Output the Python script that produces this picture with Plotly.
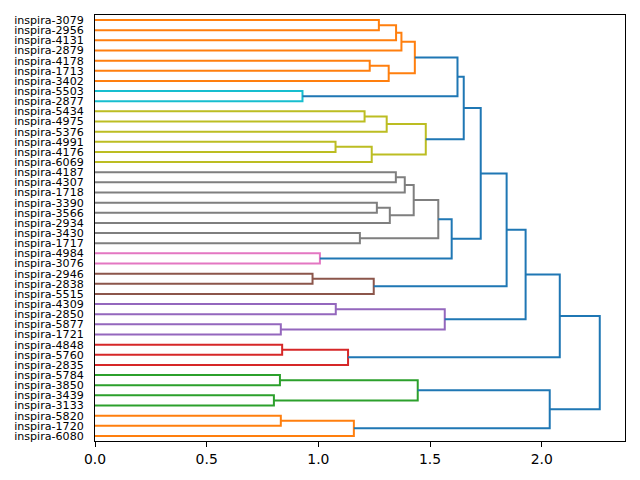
import plotly.graph_objects as go

# leaf labels, top to bottom as drawn
leaf_labels = [
    "inspira-3079", "inspira-2956", "inspira-4131", "inspira-2879", "inspira-4178",
    "inspira-1713", "inspira-3402", "inspira-5503", "inspira-2877", "inspira-5434",
    "inspira-4975", "inspira-5376", "inspira-4991", "inspira-4176", "inspira-6069",
    "inspira-4187", "inspira-4307", "inspira-1718", "inspira-3390", "inspira-3566",
    "inspira-2934", "inspira-3430", "inspira-1717", "inspira-4984", "inspira-3076",
    "inspira-2946", "inspira-2838", "inspira-5515", "inspira-4309", "inspira-2850",
    "inspira-5877", "inspira-1721", "inspira-4848", "inspira-5760", "inspira-2835",
    "inspira-5784", "inspira-3850", "inspira-3439", "inspira-3133", "inspira-5820",
    "inspira-1720", "inspira-6080",
]

# linkage: merge k creates cluster id 42 + k
left_child = [37, 35, 30, 39, 32, 7, 25, 23, 12, 28, 46, 45, 21, 9, 4, 50, 48, 18, 0, 55,
              56, 59, 15, 60, 65, 64, 67, 66, 43, 61, 68, 51, 72, 69, 75, 76, 77, 78, 70, 79, 81]
right_child = [38, 36, 31, 40, 33, 8, 26, 24, 13, 29, 34, 41, 22, 10, 5, 14, 27, 19, 1, 11,
               6, 20, 16, 2, 3, 17, 63, 62, 42, 57, 54, 44, 49, 47, 71, 74, 58, 73, 53, 52, 80]
merge_height = [0.801, 0.828, 0.832, 0.832, 0.838, 0.929, 0.974, 1.007, 1.077, 1.078,
                1.133, 1.159, 1.186, 1.207, 1.230, 1.239, 1.248, 1.262, 1.271, 1.306,
                1.315, 1.320, 1.347, 1.348, 1.372, 1.387, 1.427, 1.432, 1.445, 1.481,
                1.537, 1.566, 1.597, 1.623, 1.651, 1.727, 1.843, 1.928, 2.036, 2.081, 2.260]

palette = ["#ff7f0e", "#2ca02c", "#d62728", "#9467bd", "#8c564b",
           "#e377c2", "#7f7f7f", "#bcbd22", "#17becf"]
above_color = "#1f77b4"

n = len(leaf_labels)
pos = {i: 10 * i + 5 for i in range(n)}
hgt = {i: 0.0 for i in range(n)}
leaves = {i: [i] for i in range(n)}
parent = {}
for k, (a, b, h) in enumerate(zip(left_child, right_child, merge_height)):
    c = n + k
    pos[c] = (pos[a] + pos[b]) / 2
    hgt[c] = h
    leaves[c] = leaves[a] + leaves[b]
    parent[a] = c
    parent[b] = c

threshold = 0.7 * max(merge_height)
root = n + len(merge_height) - 1

# sub-threshold clusters, coloured from the bottom up
clusters = [c for c in range(n, root + 1)
            if hgt[c] <= threshold and hgt[parent.get(c, root)] > threshold]
clusters.sort(key=lambda c: -max(leaves[c]))
node_color = {}
for j, c in enumerate(clusters):
    stack = [c]
    while stack:
        m = stack.pop()
        node_color[m] = palette[j % len(palette)]
        if m >= n:
            stack += [left_child[m - n], right_child[m - n]]

segs = {}
for k, (a, b, h) in enumerate(zip(left_child, right_child, merge_height)):
    c = n + k
    col = node_color.get(c, above_color) if h <= threshold else above_color
    xs, ys = segs.setdefault(col, ([], []))
    xs += [hgt[a], h, h, hgt[b], None]
    ys += [pos[a], pos[a], pos[b], pos[b], None]

fig = go.Figure()
for col, (xs, ys) in segs.items():
    fig.add_trace(go.Scatter(x=xs, y=ys, mode="lines",
                             line=dict(color=col, width=2), hoverinfo="skip"))

# page body adds an 8px offset, so the figure is sized to fit what is left
fig.update_layout(
    width=632, height=472,
    margin=dict(l=87, r=15, t=7, b=39),
    plot_bgcolor="white", paper_bgcolor="white",
    showlegend=False,
    font=dict(family="DejaVu Sans", color="black"),
)
fig.update_xaxes(
    range=[0, max(merge_height) * 1.05],
    tickvals=[0, 0.5, 1.0, 1.5, 2.0], ticktext=["0.0", "0.5", "1.0", "1.5", "2.0"],
    ticks="outside", ticklen=5, tickwidth=1, tickcolor="black",
    tickfont=dict(size=13.9),
    showline=True, mirror=True, linecolor="black", linewidth=1,
    showgrid=False, zeroline=False,
)
fig.update_yaxes(
    range=[10 * n, 0],
    tickvals=[pos[i] for i in range(n)], ticktext=leaf_labels,
    ticks="", ticklabelstandoff=8,
    tickfont=dict(size=11.1),
    showline=True, mirror=True, linecolor="black", linewidth=1,
    showgrid=False, zeroline=False,
)

fig.write_html("out.html")
